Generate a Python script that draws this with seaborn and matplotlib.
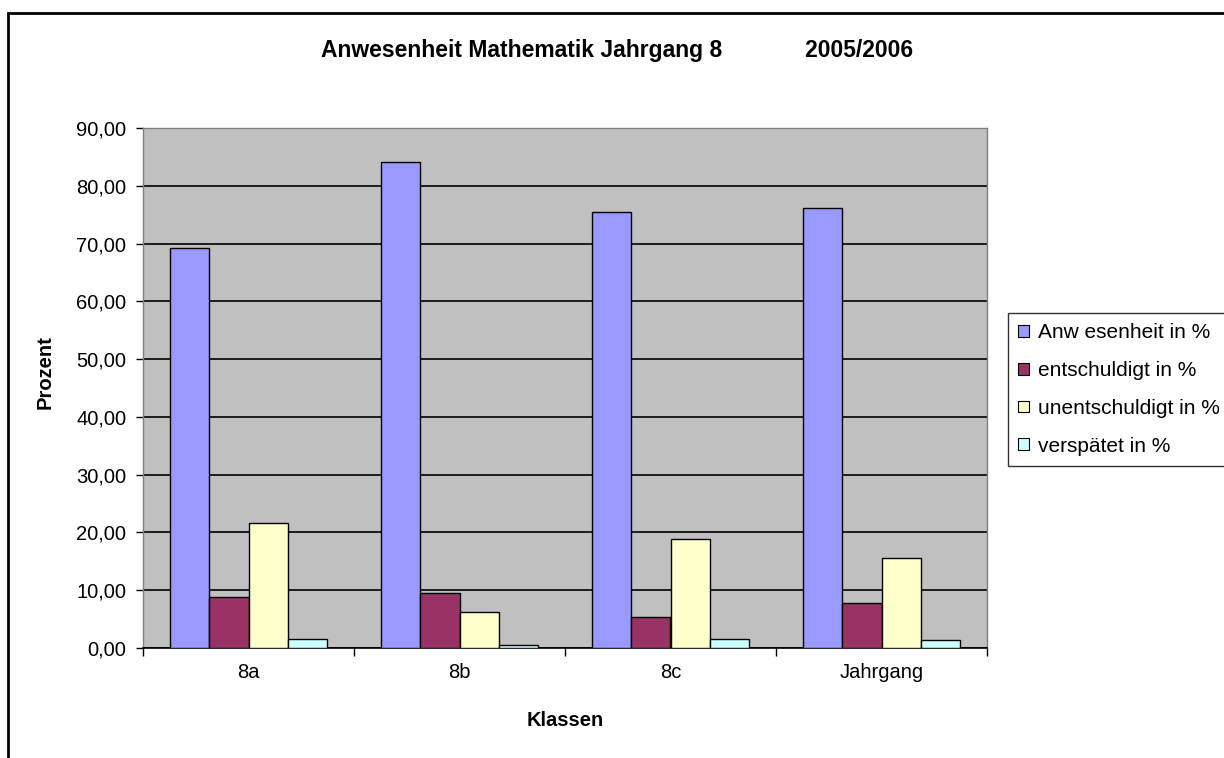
import numpy as np
import pandas as pd
import seaborn as sns
import matplotlib.pyplot as plt
from matplotlib.patches import Rectangle, Patch
from matplotlib.ticker import FuncFormatter

klassen = ["8a", "8b", "8c", "Jahrgang"]
serien = ["Anwesenheit in %", "entschuldigt in %", "unentschuldigt in %", "verspätet in %"]
legend_labels = ["Anw esenheit in %", "entschuldigt in %", "unentschuldigt in %", "verspätet in %"]
anwesenheit = [69.2, 84.1, 75.4, 76.1]
entschuldigt = [8.9, 9.6, 5.4, 7.8]
unentschuldigt = [21.7, 6.2, 18.9, 15.5]
verspaetet = [1.6, 0.6, 1.6, 1.3]
farben = ["#9999FF", "#993366", "#FFFFCC", "#CCFFFF"]

rows = []
for name, vals in zip(serien, [anwesenheit, entschuldigt, unentschuldigt, verspaetet]):
    for k, v in zip(klassen, vals):
        rows.append({"Klasse": k, "Serie": name, "Wert": v})
df = pd.DataFrame(rows)

sns.set_style("white")
plt.rcParams['font.family'] = ['Liberation Sans', 'DejaVu Sans']
plt.rcParams['text.color'] = 'black'
plt.rcParams['axes.labelcolor'] = 'black'
plt.rcParams['xtick.color'] = 'black'
plt.rcParams['ytick.color'] = 'black'

fig = plt.figure(figsize=(12.24, 7.58), dpi=100)
ax = fig.add_axes([143 / 1224, 1 - 648 / 758, (987 - 143) / 1224, (648 - 128) / 758])

sns.barplot(data=df, x="Klasse", y="Wert", hue="Serie", order=klassen, hue_order=serien,
            palette=farben, width=0.74, gap=0, edgecolor="black", linewidth=1,
            saturation=1, legend=False, ax=ax, zorder=3)

ax.set_facecolor("#C0C0C0")
ax.set_ylim(0, 90)
ax.set_xlim(-0.5, 3.5)
ax.set_yticks(np.arange(0, 91, 10))
ax.yaxis.set_major_formatter(FuncFormatter(lambda v, p: f"{v:.2f}".replace(".", ",")))
ax.grid(axis="y", color="black", linewidth=1.2, zorder=0)
ax.set_axisbelow(True)

# category ticks between groups, labels in the middle
ax.set_xticks([-0.5, 0.5, 1.5, 2.5, 3.5])
ax.set_xticklabels([])
ax.set_xticks(range(len(klassen)), minor=True)
ax.set_xticklabels(klassen, minor=True, fontsize=14.5)
ax.tick_params(axis="x", which="major", length=6, width=1, direction="out", bottom=True)
ax.tick_params(axis="x", which="minor", length=0, pad=11)
ax.tick_params(axis="y", length=5, width=1, direction="out", left=True, labelsize=14.5, pad=7)

for side in ["top", "right", "left"]:
    ax.spines[side].set_color("#808080")
    ax.spines[side].set_linewidth(1)
ax.spines["bottom"].set_color("black")
ax.spines["bottom"].set_linewidth(1.2)

ax.set_xlabel("")
ax.set_ylabel("")
fig.text(565 / 1224, 1 - 720 / 758, "Klassen", ha="center", va="center",
         fontsize=14.5, fontweight="bold")
fig.text(45 / 1224, 1 - 372 / 758, "Prozent", ha="center", va="center", rotation=90,
         fontsize=14.5, fontweight="bold")

fig.text(617 / 1224, 1 - 50 / 758, "Anwesenheit Mathematik Jahrgang 8             2005/2006",
         ha="center", va="center", fontsize=16.5, fontweight="bold")

handles = [Patch(facecolor=c, edgecolor="black", linewidth=0.8) for c in farben]
leg = fig.legend(handles, legend_labels, loc="upper left", bbox_to_anchor=(1008 / 1224, 1 - 313 / 758),
                 fontsize=15, frameon=True, fancybox=False, edgecolor="black",
                 handlelength=0.5, handleheight=0.5, handletextpad=0.45, labelspacing=0.9,
                 borderpad=0.5, borderaxespad=0)
leg.get_frame().set_linewidth(1)

fig.patches.append(Rectangle((8 / 1224, -0.1), 1.2, 1 - 13 / 758 + 0.1, transform=fig.transFigure,
                             fill=False, edgecolor="black", linewidth=2))

fig.savefig("out.png", dpi=100)
